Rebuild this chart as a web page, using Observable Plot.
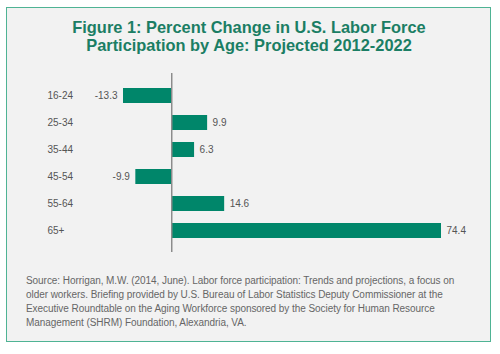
<!DOCTYPE html>
<html>
<head>
<meta charset="utf-8">
<script src="https://cdn.jsdelivr.net/npm/d3@7"></script>
<script src="https://cdn.jsdelivr.net/npm/@observablehq/plot@0.6"></script>
<style>
  html, body { margin: 0; padding: 0; background: #ffffff; width: 500px; height: 354px; overflow: hidden; }
  #box { position: absolute; left: 6px; top: 7px; width: 483px; height: 333px; border: 1px solid #4fb394; background: #f2f2f2; }
  #title { position: absolute; left: 0; top: 18px; width: 498px; text-align: center; font-family: "Liberation Sans", Arial, sans-serif; font-weight: bold; font-size: 16.4px; line-height: 18px; color: #1b7e64; }
  #chart { position: absolute; left: 0; top: 65px; }
  #caption { position: absolute; left: 26px; top: 274px; font-family: "Liberation Sans", Arial, sans-serif; font-size: 10px; letter-spacing: -0.06px; line-height: 14px; color: #666666; white-space: nowrap; }
</style>
</head>
<body>
<div id="box"></div>
<div id="title">Figure 1: Percent Change in U.S. Labor Force<br>Participation by Age: Projected 2012-2022</div>
<div id="chart"></div>
<div id="caption">Source: Horrigan, M.W. (2014, June). Labor force participation: Trends and projections, a focus on<br>older workers. Briefing provided by U.S. Bureau of Labor Statistics Deputy Commissioner at the<br>Executive Roundtable on the Aging Workforce sponsored by the Society for Human Resource<br>Management (SHRM) Foundation, Alexandria, VA.</div>
<script>
const ages = ["16-24", "25-34", "35-44", "45-54", "55-64", "65+"];
const changes = [-13.3, 9.9, 6.3, -9.9, 14.6, 74.4];
const labels = ["-13.3", "9.9", "6.3", "-9.9", "14.6", "74.4"];

const data = ages.map((a, i) => ({age: a, value: changes[i], label: labels[i]}));

const plot = Plot.plot({
  width: 500,
  height: 190,
  marginLeft: 123,
  marginRight: 59,
  marginTop: 8,
  marginBottom: 3,
  style: { background: "transparent", fontFamily: "'Liberation Sans', Arial, sans-serif" },
  x: { domain: [-13.3, 74.4], axis: null },
  y: { domain: ages, paddingInner: 0.46, paddingOuter: 0.45 },
  marks: [
    Plot.barX(data, { y: "age", x: "value", fill: "#00866a" }),
    Plot.ruleX([0], { stroke: "#8c8c8c", strokeWidth: 1.5 }),
    Plot.text(data.filter(d => d.value >= 0), { y: "age", x: "value", text: "label", textAnchor: "start", dx: 5, fill: "#555555", fontSize: 10 }),
    Plot.text(data.filter(d => d.value < 0), { y: "age", x: "value", text: "label", textAnchor: "end", dx: -6, fill: "#555555", fontSize: 10 }),
    Plot.axisY({ tickSize: 0, tickPadding: 0, textAnchor: "start", dx: -76, fill: "#555555", fontSize: 10, label: null })
  ]
});
document.getElementById("chart").appendChild(plot);
</script>
</body>
</html>
